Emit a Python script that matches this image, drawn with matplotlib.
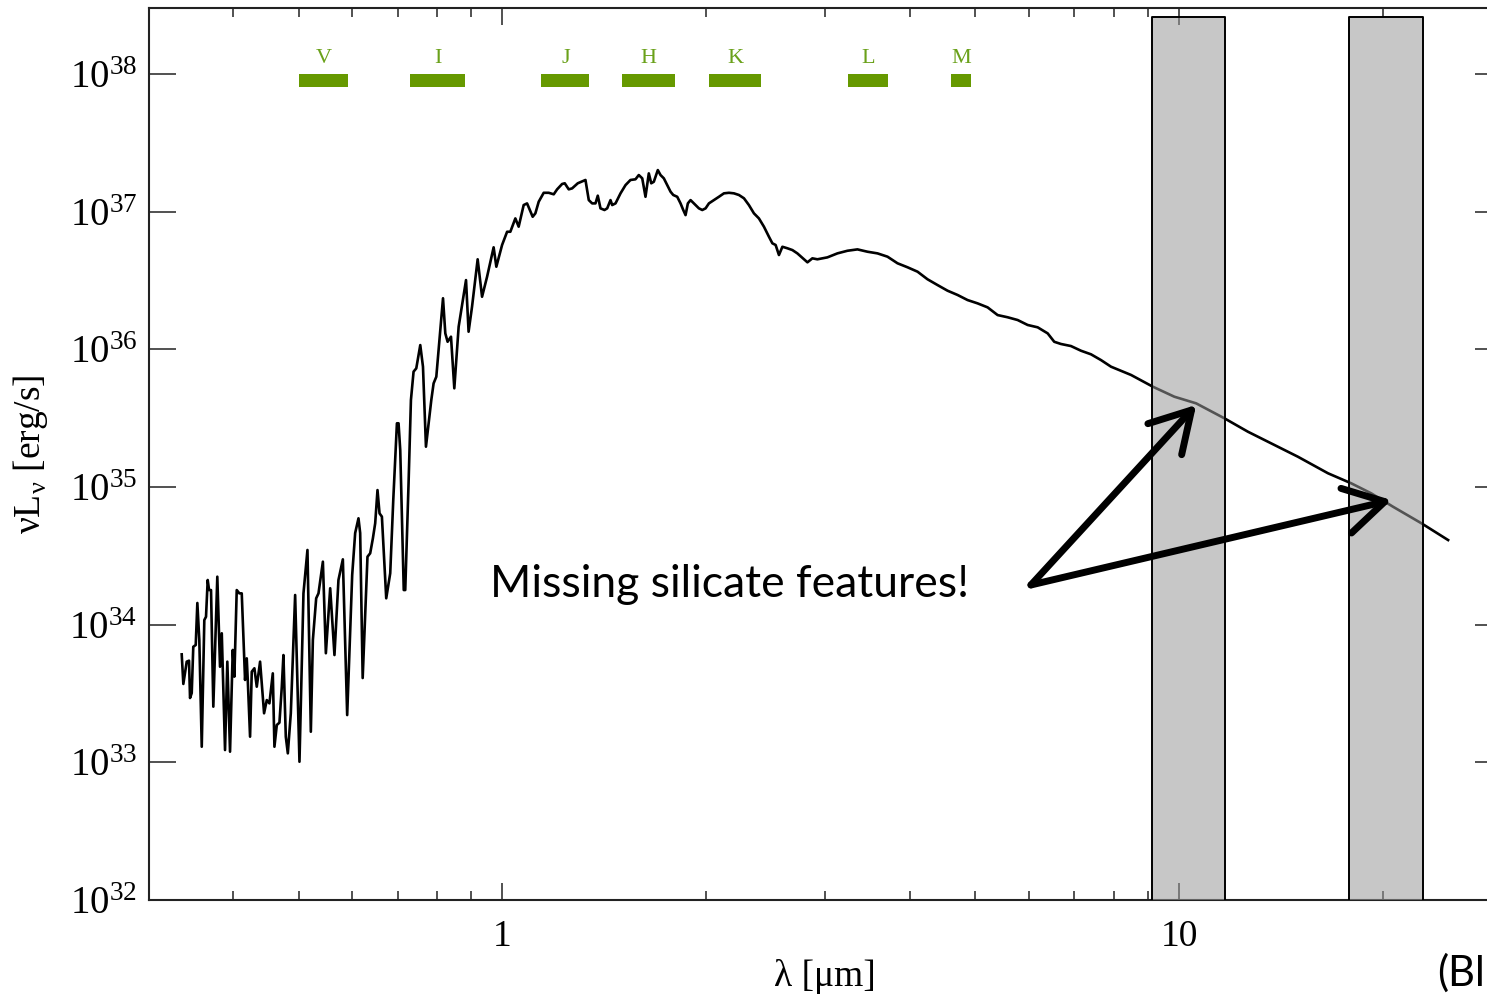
import numpy as np
import matplotlib
matplotlib.use("Agg")
import matplotlib.pyplot as plt
from matplotlib.ticker import FixedLocator, FuncFormatter, NullFormatter, LogLocator

plt.rcParams['font.family'] = ['Liberation Serif', 'DejaVu Serif']

# ---- spectrum (log10 wavelength [um], log10 nuL_nu [erg/s]) ----
log_wave = [
    -0.4738, -0.4714, -0.4664, -0.4630, -0.4615, -0.4590, -0.4567, -0.4531, -0.4507, -0.4478,
    -0.4442, -0.4404, -0.4379, -0.4354, -0.4334, -0.4305, -0.4271, -0.4212, -0.4172, -0.4146,
    -0.4098, -0.4064, -0.4024, -0.3984, -0.3960, -0.3925, -0.3886, -0.3851, -0.3802, -0.3777,
    -0.3762, -0.3728, -0.3703, -0.3664, -0.3629, -0.3580, -0.3521, -0.3481, -0.3442, -0.3392,
    -0.3368, -0.3333, -0.3294, -0.3259, -0.3235, -0.3200, -0.3170, -0.3126, -0.3062, -0.2998,
    -0.2939, -0.2880, -0.2830, -0.2800, -0.2751, -0.2717, -0.2652, -0.2608, -0.2544, -0.2481,
    -0.2422, -0.2357, -0.2293, -0.2219, -0.2175, -0.2126, -0.2101, -0.2064, -0.1993, -0.1953,
    -0.1913, -0.1879, -0.1845, -0.1815, -0.1780, -0.1716, -0.1657, -0.1612, -0.1558, -0.1534,
    -0.1509, -0.1457, -0.1435, -0.1386, -0.1351, -0.1312, -0.1272, -0.1213, -0.1173, -0.1129,
    -0.1090, -0.1050, -0.1016, -0.0976, -0.0942, -0.0877, -0.0843, -0.0809, -0.0759, -0.0710,
    -0.0646, -0.0537, -0.0499, -0.0448, -0.0365, -0.0300, -0.0226, -0.0129, -0.0089, -0.0004,
    0.0070, 0.0118, 0.0192, 0.0241, 0.0315, 0.0365, 0.0448, 0.0488, 0.0537, 0.0611,
    0.0685, 0.0759, 0.0809, 0.0883, 0.0922, 0.0981, 0.1031, 0.1114, 0.1203, 0.1228,
    0.1277, 0.1327, 0.1376, 0.1410, 0.1450, 0.1509, 0.1549, 0.1598, 0.1623, 0.1672,
    0.1746, 0.1820, 0.1893, 0.1967, 0.2016, 0.2067, 0.2115, 0.2164, 0.2200, 0.2238,
    0.2297, 0.2337, 0.2386, 0.2485, 0.2525, 0.2584, 0.2633, 0.2673, 0.2707, 0.2741,
    0.2781, 0.2830, 0.2904, 0.2954, 0.3003, 0.3052, 0.3126, 0.3200, 0.3274, 0.3348,
    0.3422, 0.3496, 0.3570, 0.3643, 0.3717, 0.3791, 0.3865, 0.3939, 0.3990, 0.4038,
    0.4087, 0.4138, 0.4212, 0.4286, 0.4359, 0.4457, 0.4508, 0.4581, 0.4655, 0.4803,
    0.4951, 0.5099, 0.5247, 0.5395, 0.5543, 0.5691, 0.5839, 0.5987, 0.6135, 0.6282,
    0.6430, 0.6578, 0.6726, 0.6874, 0.7022, 0.7170, 0.7318, 0.7466, 0.7614, 0.7762,
    0.7910, 0.8058, 0.8155, 0.8254, 0.8402, 0.8550, 0.8698, 0.8846, 0.8994, 0.9290,
    0.9611, 0.9930, 1.0251, 1.0670, 1.1016, 1.1312, 1.1756, 1.2200, 1.2544, 1.2840,
    1.3161, 1.3580, 1.3777, 1.3975,
]
log_lum = [
    33.784, 33.569, 33.731, 33.738, 33.467, 33.503, 33.839, 33.852, 34.157, 33.888,
    33.113, 34.033, 34.057, 34.324, 34.251, 34.251, 33.404, 34.348, 33.694, 33.937,
    33.089, 33.731, 33.077, 33.816, 33.622, 34.251, 34.227, 34.227, 33.598, 33.755,
    33.598, 33.186, 33.658, 33.683, 33.549, 33.731, 33.356, 33.452, 33.428, 33.646,
    33.113, 33.271, 33.288, 33.549, 33.779, 33.186, 33.065, 33.356, 34.215, 33.004,
    34.227, 34.542, 33.222, 33.888, 34.191, 34.227, 34.457, 33.792, 34.264, 33.779,
    34.324, 34.474, 33.343, 34.360, 34.665, 34.772, 34.665, 33.612, 34.493, 34.518,
    34.627, 34.736, 34.977, 34.808, 34.784, 34.191, 34.373, 34.905, 35.462, 35.462,
    35.268, 34.251, 34.251, 35.026, 35.631, 35.837, 35.861, 36.030, 35.873, 35.292,
    35.462, 35.631, 35.752, 35.800, 35.994, 36.370, 36.115, 36.054, 36.091, 35.716,
    36.163, 36.502, 36.127, 36.309, 36.653, 36.381, 36.526, 36.740, 36.599, 36.757,
    36.853, 36.853, 36.950, 36.890, 37.047, 37.059, 36.962, 36.987, 37.071, 37.136,
    37.136, 37.125, 37.161, 37.200, 37.205, 37.161, 37.168, 37.205, 37.224, 37.229,
    37.083, 37.059, 37.059, 37.115, 37.023, 37.011, 37.023, 37.083, 37.047, 37.059,
    37.132, 37.192, 37.229, 37.234, 37.265, 37.241, 37.107, 37.277, 37.205, 37.216,
    37.301, 37.265, 37.241, 37.144, 37.120, 37.107, 37.059, 37.011, 36.974, 37.059,
    37.083, 37.059, 37.023, 37.011, 37.023, 37.059, 37.083, 37.107, 37.132, 37.136,
    37.132, 37.120, 37.096, 37.047, 36.987, 36.950, 36.890, 36.817, 36.769, 36.757,
    36.684, 36.744, 36.733, 36.720, 36.696, 36.653, 36.631, 36.660, 36.653, 36.667,
    36.696, 36.715, 36.725, 36.708, 36.696, 36.672, 36.624, 36.595, 36.563, 36.508,
    36.466, 36.425, 36.394, 36.357, 36.333, 36.304, 36.248, 36.232, 36.212, 36.176,
    36.159, 36.115, 36.054, 36.038, 36.023, 35.989, 35.963, 35.921, 35.873, 35.813,
    35.728, 35.655, 35.607, 35.498, 35.401, 35.328, 35.219, 35.099, 35.026, 34.953,
    34.856, 34.736, 34.675, 34.614,
]

# ---- photometric filter bands (um) ----
filter_names = ['V', 'I', 'J', 'H', 'K', 'L', 'M']
filter_lo = [0.501, 0.731, 1.142, 1.50, 2.02, 3.24, 4.60]
filter_hi = [0.592, 0.882, 1.345, 1.80, 2.41, 3.72, 4.92]

# ---- silicate feature regions (um) ----
silicate_lo = [9.12, 17.8]
silicate_hi = [11.7, 22.9]

# ---- annotation ----
arrow_tail = (6.04, 1.94e34)
arrow_tips = [(10.6, 3.94e35), (20.6, 8.03e34)]

wave = 10 ** np.array(log_wave)
lum = 10 ** np.array(log_lum)

W, H = 1487, 994
fig = plt.figure(figsize=(W / 100, H / 100), dpi=100)
ax = fig.add_axes([148.5 / W, 94 / H, (1502 - 148.5) / W, 892 / H])
ax.set_xscale('log')
ax.set_yscale('log')
ax.set_xlim(0.3, 30)
ax.set_ylim(1e32, 10 ** 38.478)

ax.plot(wave, lum, color='black', lw=1.9, zorder=2)

# silicate bands drawn on top, semi-transparent
for lo, hi in zip(silicate_lo, silicate_hi):
    ax.fill_between([lo, hi], [1e32, 1e32], [2.57e38, 2.57e38],
                    facecolor=(0.6, 0.6, 0.6, 0.55), edgecolor='none', zorder=3)
    ax.plot([lo, lo, hi, hi], [1e32, 2.57e38, 2.57e38, 1e32], color='black', lw=1.4, zorder=4)

# filter bars
green = '#669900'
for name, lo, hi in zip(filter_names, filter_lo, filter_hi):
    ax.fill_between([lo, hi], [8.0e37, 8.0e37], [1.0e38, 1.0e38],
                    facecolor=green, edgecolor='none', zorder=3)
    ax.text(np.sqrt(lo * hi), 1.30e38, name, color='#6aa11a', fontsize=16,
            ha='center', va='center', zorder=4)

# arrows
for tip in arrow_tips:
    ax.annotate('', xy=tip, xytext=arrow_tail,
                arrowprops=dict(arrowstyle='->,head_length=0.95,head_width=0.55',
                                lw=5, color='black', shrinkA=0, shrinkB=0,
                                mutation_scale=30),
                zorder=5)
ax.text(0.96, 10 ** 34.29, 'Missing silicate features!', fontsize=32,
        family=['Lato', 'DejaVu Sans'], ha='left', va='center', zorder=5)

# ticks
ax.yaxis.set_major_locator(FixedLocator([1e32, 1e33, 1e34, 1e35, 1e36, 1e37, 1e38]))
ax.yaxis.set_major_formatter(FuncFormatter(
    lambda v, p: r'$\mathregular{10^{%d}}$' % int(round(np.log10(v)))))
ax.yaxis.set_minor_locator(FixedLocator([]))
ax.xaxis.set_major_locator(FixedLocator([1, 10]))
ax.xaxis.set_major_formatter(FuncFormatter(lambda v, p: '%d' % int(round(v))))
ax.xaxis.set_minor_locator(LogLocator(base=10, subs=np.arange(2, 10), numticks=20))
ax.xaxis.set_minor_formatter(NullFormatter())

ax.tick_params(which='both', direction='in', top=True, right=True, colors='#222222',
               labelcolor='black')
ax.tick_params(axis='x', which='major', length=12, width=1.1, labelsize=27, pad=14)
ax.tick_params(axis='x', which='minor', length=6.5, width=1.1)
ax.tick_params(axis='y', which='major', length=19.5, width=1.1, labelsize=28, pad=8)
for s in ax.spines.values():
    s.set_linewidth(1.5)
    s.set_color('#222222')

ax.set_xlabel('λ [μm]', fontsize=27, labelpad=4)
ax.set_ylabel('νL$_{\\mathregular{ν}}$ [erg/s]', fontsize=27, labelpad=14)

fig.text(1437 / W, 0.008, '(Bl', fontsize=30,
         family=['Lato', 'DejaVu Sans'], ha='left', va='baseline')

fig.savefig('out.png', dpi=100)
